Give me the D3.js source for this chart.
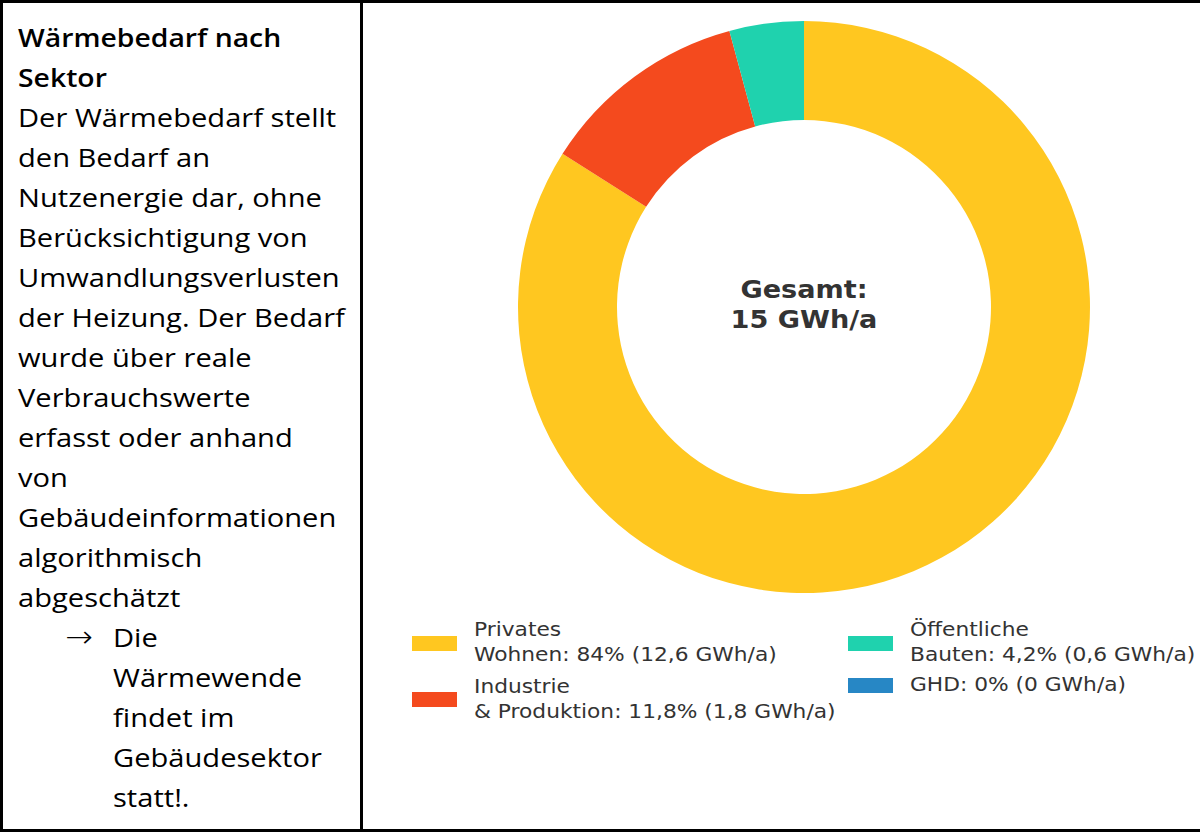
<!DOCTYPE html>
<html>
<head>
<meta charset="utf-8">
<script src="https://cdn.jsdelivr.net/npm/d3@7"></script>
<style>
  html,body{margin:0;padding:0;background:#fff}
  svg{display:block}
</style>
</head>
<body>
<script>
// data
var sectors = ["Privates Wohnen", "Industrie & Produktion", "Öffentliche Bauten", "GHD"]
var shares = [84, 11.8, 4.2, 0]
var labelLines = [
    ["Privates", "Wohnen: 84% (12,6 GWh/a)"],
    ["Industrie", "& Produktion: 11,8% (1,8 GWh/a)"],
    ["Öffentliche", "Bauten: 4,2% (0,6 GWh/a)"],
    ["GHD: 0% (0 GWh/a)"]
]
var colors = ["#FFC720", "#F44A1E", "#1FD2AE", "#2787C5"]
var totalLabel = ["Gesamt:", "15 GWh/a"]

var titleLines = ["Wärmebedarf nach", "Sektor"]
var bodyLines = ["Der Wärmebedarf stellt", "den Bedarf an", "Nutzenergie dar, ohne",
    "Berücksichtigung von", "Umwandlungsverlusten", "der Heizung. Der Bedarf",
    "wurde über reale", "Verbrauchswerte", "erfasst oder anhand", "von",
    "Gebäudeinformationen", "algorithmisch", "abgeschätzt"]
var bulletLines = ["Die", "Wärmewende", "findet im", "Gebäudesektor", "statt!."]

var W = 1200, H = 832
var SX = 1.12   // text in the original is drawn slightly wide
var svg = d3.select("body").append("svg").attr("width", W).attr("height", H)

function wide(sel, x, y, sx){
    return sel.attr("transform", "translate(" + x + "," + y + ") scale(" + (sx || SX) + ",1)")
}

// frame
svg.append("rect").attr("x", 1.5).attr("y", 1.5).attr("width", W + 10).attr("height", H - 3)
    .attr("fill", "none").attr("stroke", "#000").attr("stroke-width", 3)
svg.append("line").attr("x1", 361.5).attr("x2", 361.5).attr("y1", 0).attr("y2", H)
    .attr("stroke", "#000").attr("stroke-width", 3)

// left text panel
var lh = 40, fs = 26
var txt = svg.append("g").attr("font-family", "'Open Sans', sans-serif").attr("font-size", fs).attr("fill", "#000")
var line = 0
titleLines.forEach(function(t){
    wide(txt.append("text"), 18, 47 + line * lh, 1.09).attr("font-weight", 600).text(t)
    line++
})
bodyLines.forEach(function(t){
    wide(txt.append("text"), 18, 47 + line * lh).text(t)
    line++
})
wide(txt.append("text"), 65, 47 + line * lh, 1.1).attr("font-family", "'DejaVu Sans', sans-serif")
    .attr("font-weight", 200).attr("font-size", 30).text("→")
bulletLines.forEach(function(t){
    wide(txt.append("text"), 113, 47 + line * lh).text(t)
    line++
})

// donut
var cx = 804, cy = 307, R = 286, r = 187
var pie = d3.pie().sort(null).value(function(d){ return d })
var arc = d3.arc().innerRadius(r).outerRadius(R)
var g = svg.append("g").attr("transform", "translate(" + cx + "," + cy + ")")
g.selectAll("path").data(pie(shares)).enter().append("path")
    .attr("d", arc)
    .attr("fill", function(d, i){ return colors[i] })

g.selectAll("text.total").data(totalLabel).enter().append("text")
    .attr("class", "total")
    .attr("text-anchor", "middle")
    .attr("transform", function(d, i){ return "translate(0," + (-9 + i * 30) + ") scale(1.13,1)" })
    .attr("font-family", "'DejaVu Sans', sans-serif")
    .attr("font-weight", "bold")
    .attr("font-size", 24)
    .attr("fill", "#333")
    .text(function(d){ return d })

// legend (two columns, matplotlib style)
var legendPos = [
    {x: 412, y: 636, ty: 636},
    {x: 412, y: 692, ty: 693},
    {x: 848, y: 636, ty: 636},
    {x: 848, y: 678, ty: 691}
]
var lg = svg.append("g").attr("font-family", "'DejaVu Sans', sans-serif").attr("font-size", 19).attr("fill", "#333")
sectors.forEach(function(s, i){
    var p = legendPos[i]
    lg.append("rect").attr("x", p.x).attr("y", p.y).attr("width", 45).attr("height", 15).attr("fill", colors[i])
    labelLines[i].forEach(function(l, k){
        wide(lg.append("text"), p.x + 62, p.ty + k * 25, 1.145).text(l)
    })
})
</script>
</body>
</html>
